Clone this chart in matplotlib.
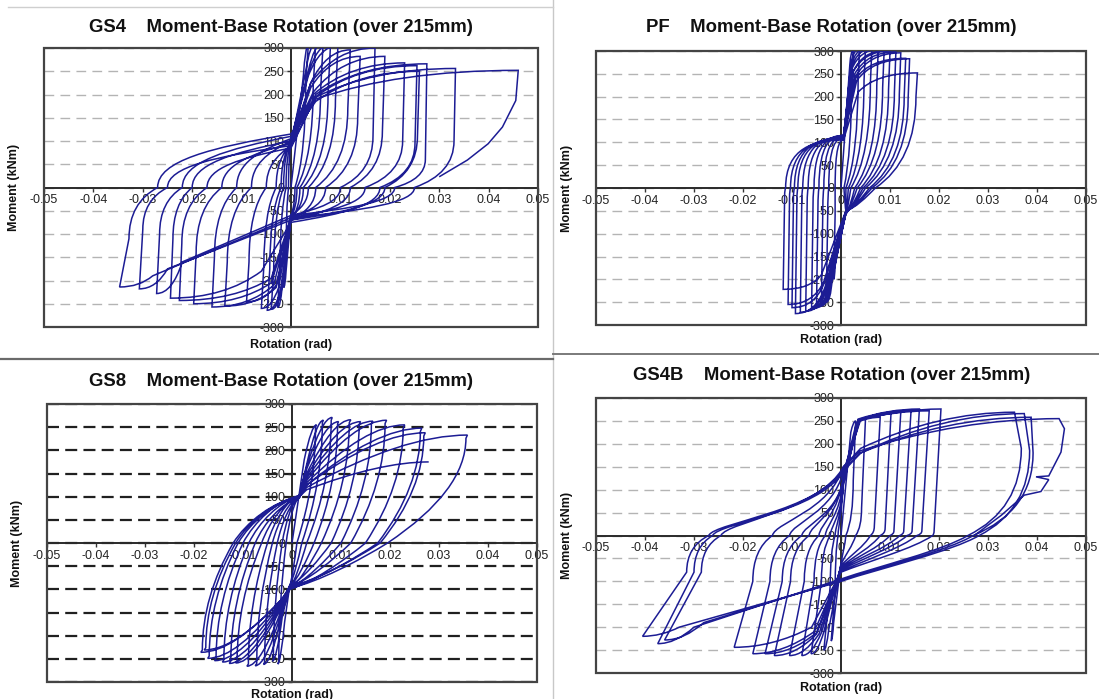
import matplotlib
matplotlib.use('Agg')
import matplotlib.pyplot as plt
from matplotlib.path import Path
from matplotlib.patches import PathPatch, Rectangle
from matplotlib.lines import Line2D

plt.rcParams['font.family'] = ['Liberation Sans', 'DejaVu Sans']

# ---------------- axis ticks ----------------
rot_ticks = [-0.05, -0.04, -0.03, -0.02, -0.01, 0.0, 0.01, 0.02, 0.03, 0.04, 0.05]
rot_labels = ['-0.05', '-0.04', '-0.03', '-0.02', '-0.01', '0', '0.01', '0.02', '0.03', '0.04', '0.05']
mom_ticks = [-300, -250, -200, -150, -100, -50, 0, 50, 100, 150, 200, 250, 300]
mom_labels = ['-300', '-250', '-200', '-150', '-100', '-50', '0', '50', '100', '150', '200', '250', '300']

# ---------------- GS4 ----------------
gs4_pos_rot = [0.0035, 0.0050, 0.0065, 0.0080, 0.0095, 0.0120, 0.0140, 0.0170, 0.0190, 0.0230, 0.0255, 0.0275, 0.0260, 0.0333, 0.0460]
gs4_pos_mom = [305, 310, 310, 308, 305, 296, 282, 300, 282, 268, 262, 266, 250, 256, 252]
gs4_pos_knee_rot = [0.0025, 0.0030, 0.0035, 0.0035, 0.0035, 0.0040, 0.0040, 0.0040, 0.0045, 0.0045, 0.0050, 0.0050, 0.0050, 0.0050, 0.0050]
gs4_pos_knee_mom = [240, 250, 250, 245, 240, 225, 215, 225, 205, 200, 195, 200, 185, 194, 190]
gs4_pos_drop_rot = [0.0030, 0.0045, 0.0060, 0.0075, 0.0090, 0.0115, 0.0135, 0.0166, 0.0185, 0.0226, 0.0251, 0.0272, 0.0256, 0.0330]
gs4_pos_drop = [230, 220, 210, 200, 190, 170, 150, 110, 120, 100, 95, 60, 110, 100]
gs4_pos_zero = [0.0008, 0.0012, 0.0018, 0.0025, 0.0035, 0.0050, 0.0070, 0.0100, 0.0120, 0.0150, 0.0180, 0.0210, 0.0190, 0.0250]
gs4_pinch_up = [100, 95, 100, 105, 100, 95, 90, 100, 105, 95, 85, 100, 110, 90, 115]
gs4_pinch_dn = [-60, -65, -70, -65, -60, -70, -65, -60, -70, -65, -75, -60, -70, -65]
gs4_neg_rot = [-0.0015, -0.0027, -0.0040, -0.0048, -0.0060, -0.0090, -0.0134, -0.0160, -0.0197, -0.0226, -0.0244, -0.0272, -0.0307, -0.0347]
gs4_neg_mom = [-215, -258, -262, -264, -260, -246, -255, -257, -250, -243, -238, -228, -218, -214]
gs4_neg_knee_rot = [-0.0010, -0.0018, -0.0020, -0.0022, -0.0025, -0.0030, -0.0030, -0.0035, -0.0040, -0.0040, -0.0060, -0.0220, -0.0250, -0.0280]
gs4_neg_knee_mom = [-180, -215, -225, -225, -215, -210, -215, -210, -205, -195, -180, -160, -175, -190]
gs4_neg_drop_rot = [-0.0010, -0.0022, -0.0035, -0.0043, -0.0055, -0.0085, -0.0129, -0.0155, -0.0192, -0.0221, -0.0239, -0.0266, -0.0300, -0.0328]
gs4_neg_drop = [-150, -170, -175, -175, -170, -160, -160, -150, -140, -120, -110, -100, -90, -110]
gs4_neg_zero = [-0.0005, -0.0010, -0.0015, -0.0020, -0.0030, -0.0050, -0.0080, -0.0110, -0.0140, -0.0170, -0.0200, -0.0220, -0.0250, -0.0270]
gs4_tail_rot = [0.0455, 0.0428, 0.0399, 0.0357, 0.0300]
gs4_tail_mom = [187, 130, 94, 59, 23]

# ---------------- PF ----------------
pf_pos_rot = [0.0025, 0.0038, 0.0050, 0.0063, 0.0076, 0.0088, 0.0100, 0.0112, 0.0122, 0.0132, 0.0140, 0.0156]
pf_pos_mom = [302, 305, 305, 305, 303, 300, 300, 298, 296, 284, 283, 252]
pf_pos_knee_rot = [0.0018, 0.0020, 0.0020, 0.0022, 0.0022, 0.0025, 0.0025, 0.0028, 0.0030, 0.0030, 0.0032, 0.0035]
pf_pos_knee_mom = [270, 270, 265, 265, 260, 255, 255, 250, 245, 240, 235, 210]
pf_pos_drop_rot = [0.0022, 0.0035, 0.0047, 0.0060, 0.0073, 0.0085, 0.0097, 0.0109, 0.0119, 0.0129, 0.0137, 0.0153]
pf_pos_drop = [250, 240, 235, 230, 225, 220, 215, 210, 205, 200, 195, 200]
pf_pos_zero = [0.0006, 0.0010, 0.0015, 0.0020, 0.0028, 0.0033, 0.0040, 0.0045, 0.0050, 0.0058, 0.0063, 0.0070]
pf_pinch_up = [110, 105, 110, 112, 115, 115, 113, 112, 110, 110, 108, 105]
pf_pinch_dn = [-50, -52, -55, -55, -57, -55, -55, -53, -52, -50, -50, -50]
pf_neg_rot = [-0.0015, -0.0030, -0.0040, -0.0050, -0.0060, -0.0072, -0.0083, -0.0093, -0.0100, -0.0108, -0.0118]
pf_neg_mom = [-200, -250, -258, -262, -265, -270, -272, -275, -262, -255, -222]
pf_neg_knee_rot = [-0.0012, -0.0018, -0.0020, -0.0022, -0.0025, -0.0028, -0.0030, -0.0032, -0.0035, -0.0035, -0.0040]
pf_neg_knee_mom = [-170, -200, -205, -210, -215, -215, -215, -215, -210, -205, -190]
pf_neg_drop_rot = [-0.0012, -0.0027, -0.0037, -0.0047, -0.0057, -0.0069, -0.0080, -0.0090, -0.0097, -0.0105, -0.0115]
pf_neg_drop = [-60, -50, -40, -40, -30, -30, -25, -25, -20, -20, -15]
pf_neg_zero = [-0.0012, -0.0025, -0.0035, -0.0045, -0.0055, -0.0067, -0.0078, -0.0088, -0.0095, -0.0103, -0.0113]

# ---------------- GS8 ----------------
gs8_pos_rot = [0.0050, 0.0064, 0.0082, 0.0095, 0.0120, 0.0140, 0.0165, 0.0193, 0.0230, 0.0265, 0.0272, 0.0358, 0.0279]
gs8_pos_mom = [255, 265, 271, 262, 266, 262, 263, 265, 255, 248, 238, 233, 175]
gs8_pos_knee_rot = [0.0025, 0.0030, 0.0030, 0.0030, 0.0030, 0.0030, 0.0030, 0.0030, 0.0030, 0.0030, 0.0030, 0.0030, 0.0030]
gs8_pos_knee_mom = [180, 170, 165, 160, 150, 145, 140, 135, 130, 125, 125, 120, 115]
gs8_pos_drop_rot = [0.0048, 0.0062, 0.0080, 0.0093, 0.0117, 0.0137, 0.0162, 0.0190, 0.0227, 0.0262, 0.0269, 0.0355]
gs8_pos_drop = [250, 260, 265, 257, 260, 256, 257, 258, 248, 241, 231, 226]
gs8_pos_zero = [0.0010, 0.0020, 0.0030, 0.0045, 0.0060, 0.0080, 0.0100, 0.0120, 0.0150, 0.0175, 0.0180, 0.0195]
gs8_pinch_up = [100, 100, 102, 98, 100, 103, 100, 97, 100, 102, 99, 100, 100]
gs8_pinch_dn = [-95, -92, -98, -95, -100, -93, -97, -95, -100, -96, -94, -98]
gs8_neg_rot = [-0.0029, -0.0040, -0.0058, -0.0075, -0.0092, -0.0115, -0.0128, -0.0142, -0.0158, -0.0172, -0.0186, -0.0179]
gs8_neg_mom = [-261, -255, -262, -265, -266, -259, -260, -257, -254, -249, -236, -231]
gs8_neg_knee_rot = [-0.0015, -0.0020, -0.0020, -0.0020, -0.0020, -0.0020, -0.0020, -0.0020, -0.0020, -0.0020, -0.0020, -0.0020]
gs8_neg_knee_mom = [-170, -160, -150, -145, -140, -135, -130, -128, -125, -122, -120, -120]
gs8_neg_drop_rot = [-0.0027, -0.0038, -0.0056, -0.0072, -0.0089, -0.0112, -0.0125, -0.0139, -0.0155, -0.0169, -0.0183, -0.0176]
gs8_neg_drop = [-255, -250, -257, -260, -261, -254, -255, -252, -249, -244, -231, -226]
gs8_neg_zero = [-0.0012, -0.0020, -0.0030, -0.0040, -0.0050, -0.0062, -0.0075, -0.0088, -0.0100, -0.0110, -0.0120, -0.0115]
gs8_tail_rot = []
gs8_tail_mom = []

# ---------------- GS4B ----------------
gs4b_pos_rot = [0.0030, 0.0050, 0.0080, 0.0102, 0.0122, 0.0143, 0.0160, 0.0180, 0.0204, 0.0354, 0.0374, 0.0388, 0.0445]
gs4b_pos_mom = [250, 255, 258, 266, 269, 273, 276, 272, 276, 269, 266, 258, 255]
gs4b_pos_knee_rot = [0.0020, 0.0030, 0.0035, 0.0035, 0.0035, 0.0035, 0.0035, 0.0038, 0.0040, 0.0040, 0.0040, 0.0040, 0.0040]
gs4b_pos_knee_mom = [225, 240, 248, 250, 252, 252, 254, 252, 252, 190, 180, 180, 185]
gs4b_pos_drop_rot = [0.0025, 0.0042, 0.0068, 0.0090, 0.0108, 0.0128, 0.0145, 0.0165, 0.0190, 0.0368, 0.0385, 0.0392]
gs4b_pos_drop = [120, 60, 20, 15, 10, 10, 10, 10, 10, 190, 185, 180]
gs4b_pos_zero = [0.0010, 0.0030, 0.0060, 0.0080, 0.0100, 0.0120, 0.0135, 0.0155, 0.0187, 0.0259, 0.0282, 0.0270]
gs4b_pinch_up = [140, 130, 120, 110, 120, 130, 125, 120, 140, 150, 140, 145, 150]
gs4b_pinch_dn = [-60, -62, -65, -68, -70, -72, -75, -78, -80, -95, -100, -98]
gs4b_neg_rot = [-0.0020, -0.0035, -0.0061, -0.0080, -0.0105, -0.0136, -0.0155, -0.0180, -0.0218, -0.0374, -0.0405, -0.0360]
gs4b_neg_mom = [-230, -250, -258, -262, -262, -262, -258, -258, -244, -236, -220, -228]
gs4b_neg_knee_rot = [-0.0015, -0.0025, -0.0035, -0.0040, -0.0045, -0.0050, -0.0050, -0.0055, -0.0060, -0.0300, -0.0330, -0.0280]
gs4b_neg_knee_mom = [-190, -205, -210, -212, -215, -215, -212, -210, -200, -200, -200, -190]
gs4b_neg_drop_rot = [-0.0012, -0.0022, -0.0040, -0.0055, -0.0075, -0.0103, -0.0120, -0.0145, -0.0180, -0.0300, -0.0315, -0.0285]
gs4b_neg_drop = [-120, -110, -100, -100, -100, -100, -100, -100, -100, -80, -80, -80]
gs4b_neg_zero = [-0.0006, -0.0012, -0.0022, -0.0032, -0.0045, -0.0065, -0.0080, -0.0105, -0.0140, -0.0262, -0.0270, -0.0245]
gs4b_tail_rot = [0.0456, 0.0449, 0.0424, 0.0398, 0.0424, 0.0408, 0.0374, 0.0327, 0.0272]
gs4b_tail_mom = [233, 182, 130, 128, 122, 96, 88, 44, 0]

titles = ['GS4    Moment-Base Rotation (over 215mm)',
          'PF    Moment-Base Rotation (over 215mm)',
          'GS8    Moment-Base Rotation (over 215mm)',
          'GS4B    Moment-Base Rotation (over 215mm)']
x_title = 'Rotation (rad)'
y_title = 'Moment (kNm)'

LINE = '#1c1c94'


def pack(prefix):
    g = globals()
    return dict(pr=g[prefix + '_pos_rot'], pm=g[prefix + '_pos_mom'],
                pkr=g[prefix + '_pos_knee_rot'], pkm=g[prefix + '_pos_knee_mom'],
                pdr=g[prefix + '_pos_drop_rot'], pd=g[prefix + '_pos_drop'],
                zp=g[prefix + '_pos_zero'],
                pu=g[prefix + '_pinch_up'], pn=g[prefix + '_pinch_dn'],
                nr=g[prefix + '_neg_rot'], nm=g[prefix + '_neg_mom'],
                nkr=g[prefix + '_neg_knee_rot'], nkm=g[prefix + '_neg_knee_mom'],
                ndr=g[prefix + '_neg_drop_rot'], nd=g[prefix + '_neg_drop'],
                zn=g[prefix + '_neg_zero'],
                tr=g.get(prefix + '_tail_rot'), tm=g.get(prefix + '_tail_mom'))


def hysteresis(d, s):
    V, C = [], []

    def mv(p):
        V.append(p); C.append(Path.MOVETO)

    def ln(p):
        V.append(p); C.append(Path.LINETO)

    def q(c, p):
        V.extend([c, p]); C.extend([Path.CURVE3] * 2)

    def cub(c1, c2, p):
        V.extend([c1, c2, p]); C.extend([Path.CURVE4] * 3)

    def pinch(z, r, m, k):
        e1, a1, e2, a2 = s[k]
        cub((r + e1 * (z - r), a1 * m), (r + e2 * (z - r), a2 * m), (r, m))

    npos, nneg = len(d['pr']), len(d['nr'])
    cf, uc = s['cf'], s['uc']
    mv((0.0, 0.0))
    for i in range(npos):
        if i > 0:
            pinch(d['zn'][i - 1], s['ur'], d['pu'][i], 'up')
        kr, km, pr, pm = d['pkr'][i], d['pkm'][i], d['pr'][i], d['pm'][i]
        ln((kr, km))
        q((kr + cf * (pr - kr), pm), (pr, pm))
        if i == npos - 1 and d['tr'] is not None:
            for r, m in zip(d['tr'], d['tm']):
                ln((r, m))
            break
        dr_, dm_ = d['pdr'][i], d['pd'][i]
        ln((dr_, dm_))
        q((dr_, uc * dm_), (d['zp'][i], 0.0))
        pinch(d['zp'][i], s['dr'], d['pn'][i], 'dn')
        if i >= nneg:
            break
        kr, km, nr, nm = d['nkr'][i], d['nkm'][i], d['nr'][i], d['nm'][i]
        ln((kr, km))
        q((kr + cf * (nr - kr), nm), (nr, nm))
        dr_, dm_ = d['ndr'][i], d['nd'][i]
        ln((dr_, dm_))
        q((dr_, uc * dm_), (d['zn'][i], 0.0))
    return Path(V, C)


styles = {
    'gs4': dict(up=(1.0, 0.5, 0.6, 0.75), dn=(1.0, 0.5, 0.6, 0.75), ur=0.0, dr=0.0, cf=0.4, uc=0.3),
    'pf': dict(up=(1.0, 0.85, 0.5, 1.0), dn=(0.7, 0.4, 0.3, 0.9), ur=0.0005, dr=0.001, cf=0.3, uc=0.3),
    'gs8': dict(up=(0.8, 0.45, 0.4, 0.9), dn=(0.7, 0.4, 0.3, 0.85), ur=0.0015, dr=-0.0005, cf=0.6, uc=0.5),
    'gs4b': dict(up=(0.95, 0.2, 0.2, 0.35), dn=(0.8, 0.35, 0.3, 0.7), ur=0.0005, dr=0.0, cf=0.5, uc=0.3),
}

W, H = 1099, 699
fig = plt.figure(figsize=(W / 100, H / 100), dpi=100)
fig.patch.set_facecolor('white')

# page separators of the source document
fig.add_artist(Line2D([553 / W, 553 / W], [0, 1], color='#c8c8c8', lw=1.0))
fig.add_artist(Line2D([8 / W, 553 / W], [1 - 7 / H, 1 - 7 / H], color='#cfcfcf', lw=1.0))
fig.add_artist(Line2D([0, 553 / W], [1 - 359 / H, 1 - 359 / H], color='#6a6a6a', lw=1.6))
fig.add_artist(Line2D([553 / W, 1], [1 - 354 / H, 1 - 354 / H], color='#7a7a7a', lw=1.4))

panels = [
    # key, box(x0,y0,x1,y1), title(x,y), ylabel x, xlabel y, grid style
    ('gs4', (44, 48, 538, 327), (281, 27), 14, 345, 'light'),
    ('pf', (596, 51, 1086, 325), (831, 27), 567, 340, 'light'),
    ('gs8', (47, 404, 537, 682), (281, 381), 17, 695, 'dark'),
    ('gs4b', (596, 398, 1086, 673), (832, 375), 567, 688, 'light'),
]

for (key, box, tpos, ylx, xly, gstyle), title in zip(panels, titles):
    x0, y0, x1, y1 = box
    ax = fig.add_axes([x0 / W, 1 - y1 / H, (x1 - x0) / W, (y1 - y0) / H])
    ax.set_xlim(-0.05, 0.05)
    ax.set_ylim(-300, 300)
    ax.set_xticks(rot_ticks)
    ax.set_xticklabels(rot_labels)
    ax.set_yticks(mom_ticks)
    ax.set_yticklabels(mom_labels)
    for sp in ['top', 'right']:
        ax.spines[sp].set_visible(False)
    for sp in ['left', 'bottom']:
        ax.spines[sp].set_position(('data', 0))
        ax.spines[sp].set_color('#2a2a2a')
        ax.spines[sp].set_linewidth(1.4)
        ax.spines[sp].set_zorder(1.6)
    ax.tick_params(direction='out', length=3, width=1, color='#333333',
                   labelsize=9, labelcolor='#222222', pad=2)
    if gstyle == 'light':
        ax.grid(axis='y', color='#b4b4b4', lw=1.0, linestyle=(0, (7, 4.5)), zorder=0)
    else:
        ax.grid(axis='y', color='#202020', lw=1.6, linestyle=(0, (5.4, 2.8)), zorder=0)
    ax.set_axisbelow(True)
    ax.add_patch(Rectangle((0, 0), 1, 1, transform=ax.transAxes, fill=False,
                           ec='#444444', lw=1.6, zorder=1.7, clip_on=False))
    path = hysteresis(pack(key), styles[key])
    ax.add_patch(PathPatch(path, fill=False, ec=LINE, lw=1.1, zorder=2))
    fig.text(tpos[0] / W, 1 - tpos[1] / H, title, ha='center', va='center',
             fontsize=13.3, fontweight='bold', color='#111111')
    fig.text(ylx / W, 1 - ((y0 + y1) / 2) / H, y_title, rotation=90, ha='center',
             va='center', fontsize=9, fontweight='bold', color='#111111')
    fig.text(((x0 + x1) / 2) / W, 1 - xly / H, x_title, ha='center', va='center',
             fontsize=9, fontweight='bold', color='#111111')

fig.savefig('out.png', dpi=100, facecolor='white')
